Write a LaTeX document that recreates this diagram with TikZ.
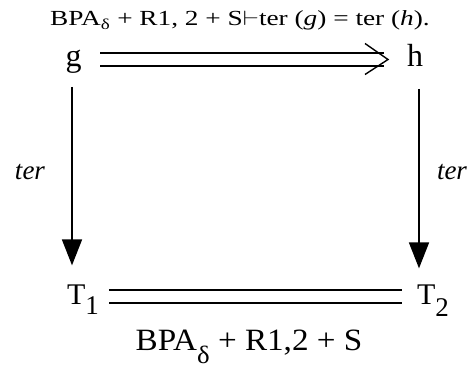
\documentclass[tikz,border=0pt]{standalone}
\usepackage{fontspec}
\setmainfont{Liberation Serif}
\usetikzlibrary{arrows.meta}
\begin{document}
\begin{tikzpicture}[x=1pt,y=-1pt,
  lbl/.style={inner sep=0pt, outer sep=0pt},
  dline/.style={line width=1.3pt, double distance=11.7pt},
  eqline/.style={line width=1.5pt, double distance=11.5pt},
  chev/.style={line width=1.4pt, line join=miter},
  varr/.style={line width=1.8pt, -{Triangle[width=20pt,length=26pt]}},
  big/.style={font=\fontsize{32}{34}\selectfont},
  tfont/.style={font=\fontsize{30}{32}\selectfont},
  terlbl/.style={font=\fontsize{27}{29}\selectfont\itshape},
]
\useasboundingbox (0,0) rectangle (469,371);
\clip (0,0) rectangle (469,371);
\node[lbl, anchor=base, font=\fontsize{21.5}{23}\selectfont] (title) at (240,26)
  {\scalebox{1.27}[1]{BPA\textsubscript{δ} + R1, 2 + S$\vdash$ter (\textit{g}) = ter (\textit{h}).}};
\node[lbl, big, anchor=base] (g) at (73.5,67) {g};
\node[lbl, big, anchor=base] (h) at (415,67) {h};
\node[lbl, tfont, anchor=base west] (T1) at (67,305) {T\raisebox{-10pt}{\fontsize{27}{29}\selectfont 1}};
\node[lbl, tfont, anchor=base west] (T2) at (417,305) {T\raisebox{-12pt}{\fontsize{27}{29}\selectfont 2}};
\node[lbl, anchor=base, font=\fontsize{31}{33}\selectfont] (eq) at (249,351)
  {\scalebox{1.07}[1]{BPA\raisebox{-13pt}{\fontsize{25}{27}\selectfont δ} + R1,2 + S}};
\node[lbl, terlbl, anchor=base west] (terL) at (15,180) {ter};
\node[lbl, terlbl, anchor=base west] (terR) at (437,180) {ter};
% top double arrow
\draw[dline] ([xshift=18.5pt,yshift=7.5pt]g.base east) -- ([xshift=-23pt,yshift=7.5pt]h.base west) coordinate (ghend);
\draw[chev] ([xshift=-19pt,yshift=16pt]ghend) -- ([xshift=4pt]ghend) -- ([xshift=-19pt,yshift=-15pt]ghend);
% vertical arrows
\draw[varr] ([xshift=-1.5pt,yshift=-13pt]g.south) -- ([xshift=-1.5pt,yshift=20pt]g.south |- T1.north);
\draw[varr] ([xshift=4pt,yshift=-22pt]h.south) -- ([xshift=4pt,yshift=17pt]h.south |- T2.north);
% bottom equality
\draw[eqline] ([xshift=10pt,yshift=8.5pt]T1.base east) -- ([xshift=-15pt,yshift=8.5pt]T2.base west);
\end{tikzpicture}
\end{document}
